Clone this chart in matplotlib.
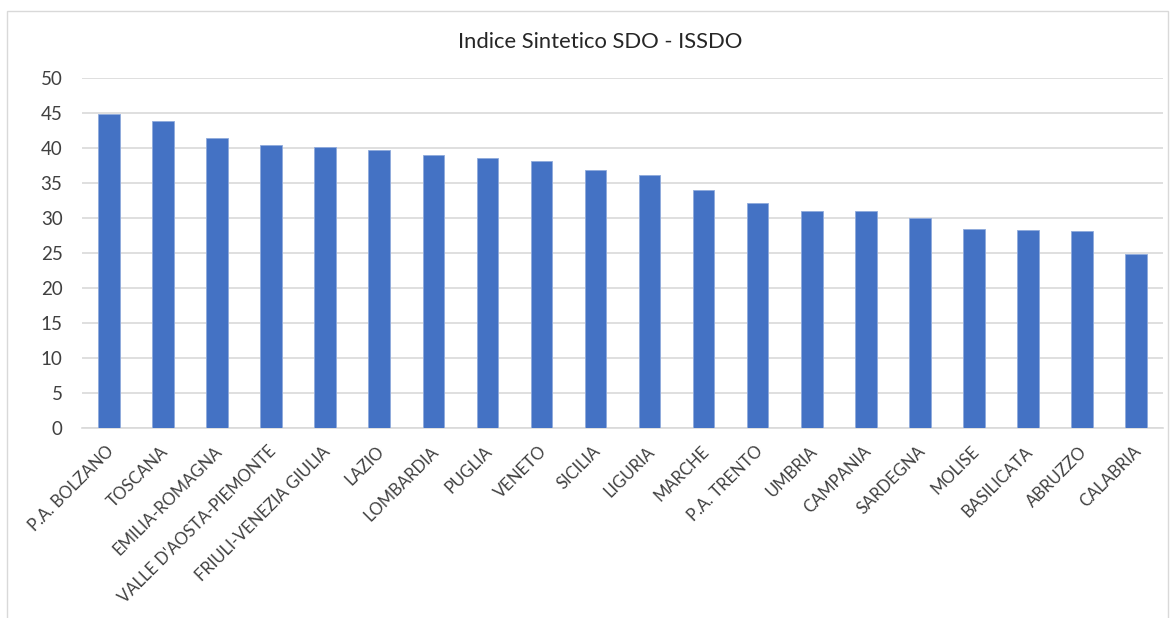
import matplotlib
matplotlib.use("Agg")
import matplotlib.pyplot as plt
from matplotlib.patches import Rectangle
from matplotlib.transforms import ScaledTranslation

# Indice Sintetico SDO per regione
regions = [
    "P.A. BOLZANO", "TOSCANA", "EMILIA-ROMAGNA", "VALLE D'AOSTA-PIEMONTE",
    "FRIULI-VENEZIA GIULIA", "LAZIO", "LOMBARDIA", "PUGLIA", "VENETO",
    "SICILIA", "LIGURIA", "MARCHE", "P.A. TRENTO", "UMBRIA", "CAMPANIA",
    "SARDEGNA", "MOLISE", "BASILICATA", "ABRUZZO", "CALABRIA",
]
issdo = [44.8, 43.8, 41.4, 40.4, 40.1, 39.7, 39.0, 38.6, 38.2, 36.8,
         36.1, 34.0, 32.2, 31.0, 31.0, 30.0, 28.5, 28.3, 28.2, 24.9]
yticks = list(range(0, 55, 5))

plt.rcParams['font.family'] = ['Lato', 'DejaVu Sans']

fig = plt.figure(figsize=(11.73, 6.18), dpi=100)
ax = fig.add_axes([0.0699, 0.3074, 0.9216, 0.5664])

x = range(len(regions))
ax.bar(x, issdo, width=0.4, color='#4472C4', edgecolor='#8FAADC', linewidth=0.6, zorder=3)

ax.set_xlim(-0.5, len(regions) - 0.5)
ax.set_ylim(0, 50)
ax.set_yticks(yticks)
ax.set_yticklabels([str(v) for v in yticks], fontsize=13.5, color='#404040')
ax.set_xticks(list(x))
ax.set_xticklabels(regions, rotation=45, ha='right', rotation_mode='anchor',
                   fontsize=12, color='#404040')
ax.tick_params(axis='y', length=0, pad=14)
ax.tick_params(axis='x', length=0, pad=11)

# nudge the rotated labels a little to the left, like the original
shift = ScaledTranslation(-3 / 100, 0, fig.dpi_scale_trans)
for lbl in ax.get_xticklabels():
    lbl.set_transform(lbl.get_transform() + shift)

ax.grid(axis='y', color='#D9D9D9', linewidth=1.2, zorder=0)
for s in ['top', 'right', 'left']:
    ax.spines[s].set_visible(False)
ax.spines['bottom'].set_color('#D9D9D9')
ax.spines['bottom'].set_linewidth(1.2)

fig.text(0.512, 0.932, "Indice Sintetico SDO - ISSDO", ha='center', va='center',
         fontsize=15.8, color='#262626')

# chart border
fig.patches.append(Rectangle((0.006, -0.02), 0.99, 1.003, transform=fig.transFigure,
                             fill=False, edgecolor='#D9D9D9', linewidth=1))

fig.savefig("out.png", dpi=100)
